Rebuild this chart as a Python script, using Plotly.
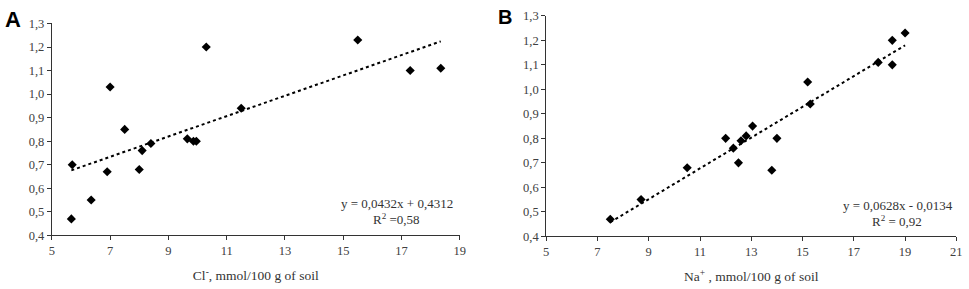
import numpy as np
import plotly.graph_objects as go

# Panel A data: Cl- (mmol/100 g of soil) vs response
cl_x = [7.0, 7.5, 8.4, 9.65, 9.86, 9.96, 10.3, 11.5, 15.5, 17.3, 18.35, 5.7, 8.1, 6.9, 8.0, 6.35, 5.67]
cl_y = [1.03, 0.85, 0.79, 0.81, 0.80, 0.80, 1.20, 0.94, 1.23, 1.10, 1.11, 0.70, 0.76, 0.67, 0.68, 0.55, 0.47]

# Panel B data: Na+ (mmol/100 g of soil) vs response
na_x = [12.0, 12.6, 12.8, 13.05, 14.0, 15.2, 15.3, 17.95, 18.5, 18.5, 19.0, 12.3, 12.5, 10.5, 13.8, 8.7, 7.5]
na_y = [0.80, 0.79, 0.81, 0.85, 0.80, 1.03, 0.94, 1.11, 1.20, 1.10, 1.23, 0.76, 0.70, 0.68, 0.67, 0.55, 0.47]

# Trendline coefficients as printed on the chart
cl_slope, cl_intercept = 0.0432, 0.4312
na_slope, na_intercept = 0.0628, -0.0134
cl_eq = ["y = 0,0432x + 0,4312", "R<sup>2</sup> =0,58"]
na_eq = ["y = 0,0628x - 0,0134", "R<sup>2</sup> = 0,92"]

y_ticks = [0.4, 0.5, 0.6, 0.7, 0.8, 0.9, 1.0, 1.1, 1.2, 1.3]
y_ticktext = ["0,4", "0,5", "0,6", "0,7", "0,8", "0,9", "1,0", "1,1", "1,2", "1,3"]
xa_ticks = [5, 7, 9, 11, 13, 15, 17, 19]
xb_ticks = [5, 7, 9, 11, 13, 15, 17, 19, 21]

W, H = 969, 289
serif = "Liberation Serif, Times New Roman, serif"
tick_col = "#404040"

fig = go.Figure()

def add_panel(xs, ys, slope, intercept, xref, yref):
    fig.add_trace(go.Scatter(x=xs, y=ys, mode="markers", xaxis=xref, yaxis=yref,
                             marker=dict(symbol="diamond", size=7, color="black"),
                             showlegend=False, hoverinfo="x+y"))
    lx = np.array([min(xs), max(xs)])
    fig.add_trace(go.Scatter(x=lx, y=slope * lx + intercept, mode="lines", xaxis=xref, yaxis=yref,
                             line=dict(color="black", width=2, dash="dot"),
                             showlegend=False, hoverinfo="skip"))

add_panel(cl_x, cl_y, cl_slope, cl_intercept, "x", "y")
add_panel(na_x, na_y, na_slope, na_intercept, "x2", "y2")

def dom(a, b, total, flip=False):
    if flip:
        return [(total - b) / total, (total - a) / total]
    return [a / total, b / total]

axis_common = dict(showgrid=False, zeroline=False, showline=True, linecolor="#333333", linewidth=1,
                   ticks="outside", ticklen=4, tickcolor="#333333",
                   tickfont=dict(family=serif, size=12.5, color=tick_col))

fig.update_layout(
    width=W, height=H,
    margin=dict(l=0, r=0, t=0, b=0),
    paper_bgcolor="white", plot_bgcolor="white",
    xaxis=dict(domain=dom(49.3, 461, W), range=[5, 19], anchor="y",
               tickvals=xa_ticks, ticktext=[str(v) for v in xa_ticks],
               title=dict(text="Cl<sup>-</sup>, mmol/100 g of soil", font=dict(family=serif, size=13.5, color="#333333"), standoff=13),
               **axis_common),
    yaxis=dict(domain=dom(17.3, 240, H, flip=True), range=[0.4, 1.3], anchor="x",
               tickvals=y_ticks, ticktext=y_ticktext, **axis_common),
    xaxis2=dict(domain=dom(548.3, 962.3, W), range=[5, 21], anchor="y2",
                tickvals=xb_ticks, ticktext=[str(v) for v in xb_ticks],
                title=dict(text="Na<sup>+</sup> , mmol/100 g of soil", font=dict(family=serif, size=13.5, color="#333333"), standoff=13),
                ticklabeloverflow="allow",
                **axis_common),
    yaxis2=dict(domain=dom(9.3, 241, H, flip=True), range=[0.4, 1.3], anchor="x2",
                tickvals=y_ticks, ticktext=y_ticktext, **axis_common),
)

annos = [
    dict(text="<b>A</b>", x=10 / W, y=1 - 13 / H, font=dict(family="Liberation Sans, Arial", size=22, color="black")),
    dict(text="<b>B</b>", x=507 / W, y=1 - 11 / H, font=dict(family="Liberation Sans, Arial", size=20, color="black")),
    dict(text=cl_eq[0], x=398 / W, y=1 - 207 / H, font=dict(family=serif, size=13, color="#333333")),
    dict(text=cl_eq[1], x=397 / W, y=1 - 223 / H, font=dict(family=serif, size=13, color="#333333")),
    dict(text=na_eq[0], x=903 / W, y=1 - 209 / H, font=dict(family=serif, size=13, color="#333333")),
    dict(text=na_eq[1], x=902 / W, y=1 - 225 / H, font=dict(family=serif, size=13, color="#333333")),
]
for a in annos:
    fig.add_annotation(xref="paper", yref="paper", showarrow=False, xanchor="center", yanchor="middle", **a)

fig.write_html("out.html", config={"displayModeBar": False},
               post_script="document.body.style.margin='0';document.body.style.overflow='hidden';")
